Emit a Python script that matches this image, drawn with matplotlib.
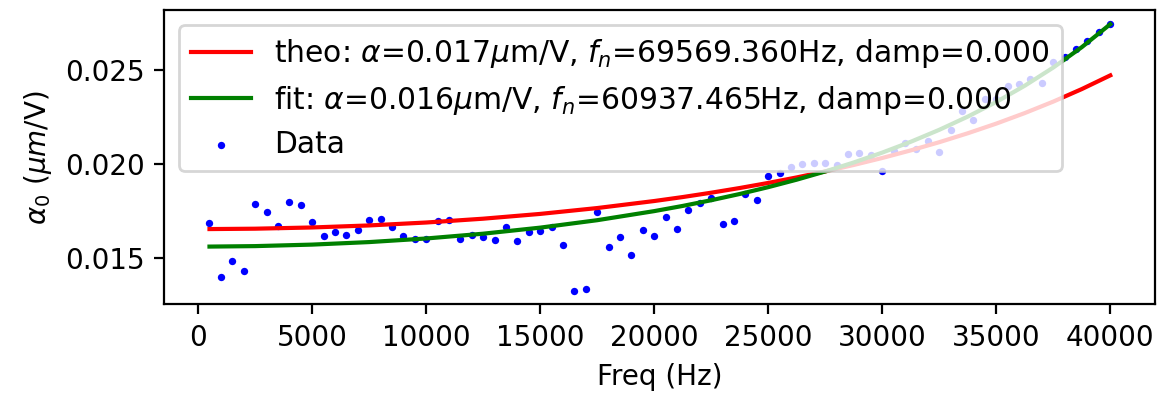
import numpy as np
import matplotlib
matplotlib.use("Agg")
import matplotlib.pyplot as plt

# measured data, one point every 500 Hz
freq = np.arange(500, 40001, 500)
alpha_data = [
    0.01685, 0.01401, 0.01481, 0.01428, 0.01784, 0.01742, 0.01670, 0.01798,
    0.01780, 0.01690, 0.01617, 0.01635, 0.01619, 0.01646, 0.01701, 0.01704,
    0.01662, 0.01614, 0.01600, 0.01598, 0.01695, 0.01702, 0.01598, 0.01621,
    0.01609, 0.01594, 0.01663, 0.01590, 0.01635, 0.01642, 0.01662, 0.01571,
    0.01325, 0.01334, 0.01742, 0.01559, 0.01609, 0.01514, 0.01647, 0.01617,
    0.01715, 0.01651, 0.01757, 0.01789, 0.01819, 0.01678, 0.01694, 0.01837,
    0.01805, 0.01935, 0.01952, 0.01981, 0.01998, 0.02005, 0.02002, 0.01995,
    0.02052, 0.02057, 0.02046, 0.01961, 0.02069, 0.02109, 0.02078, 0.02121,
    0.02061, 0.02178, 0.02280, 0.02231, 0.02344, 0.02346, 0.02415, 0.02426,
    0.02452, 0.02431, 0.02541, 0.02566, 0.02612, 0.02654, 0.02702, 0.02743,
]

# model curves
curve_freq = [500, 2500, 5000, 7500, 10000, 12500, 15000, 17500, 20000,
              21250, 22500, 23750, 25000, 26250, 27500, 28750, 30000,
              31250, 32500, 33750, 35000, 36250, 37500, 38750, 40000]
theo_curve = [0.016531, 0.016551, 0.016616, 0.016724, 0.016879, 0.017082,
              0.017336, 0.017647, 0.018020, 0.018231, 0.018462, 0.018711,
              0.018981, 0.019274, 0.019592, 0.019935, 0.020306, 0.020709,
              0.021144, 0.021618, 0.022131, 0.022691, 0.023300, 0.023965,
              0.024693]
fit_curve = [0.015601, 0.015626, 0.015706, 0.015840, 0.016031, 0.016285,
             0.016607, 0.017002, 0.017484, 0.017760, 0.018063, 0.018394,
             0.018757, 0.019154, 0.019590, 0.020067, 0.020591, 0.021166,
             0.021801, 0.022503, 0.023280, 0.024144, 0.025109, 0.026191,
             0.027411]

theo_label = r"theo: $\alpha$=0.017$\mu$m/V, $f_n$=69569.360Hz, damp=0.000"
fit_label = r"fit: $\alpha$=0.016$\mu$m/V, $f_n$=60937.465Hz, damp=0.000"

fig = plt.figure(figsize=(11.63 / 2, 3.94 / 2), dpi=200)
ax = fig.add_axes([0.1414, 0.2279, 0.8520, 0.7455])

ax.plot(curve_freq, theo_curve, "r", label=theo_label)
ax.plot(curve_freq, fit_curve, "g", label=fit_label)
# data under the curves, but listed last in the legend
ax.scatter(freq, alpha_data, s=7, c="b", linewidths=0, label="Data",
           zorder=1.5)

ax.set_xlabel("Freq (Hz)")
ax.set_ylabel(r"$\alpha_0$ ($\mu m$/V)")
ax.legend(loc="upper left", fontsize=10.7, labelspacing=0.45)

fig.savefig("out.png", dpi=200)
